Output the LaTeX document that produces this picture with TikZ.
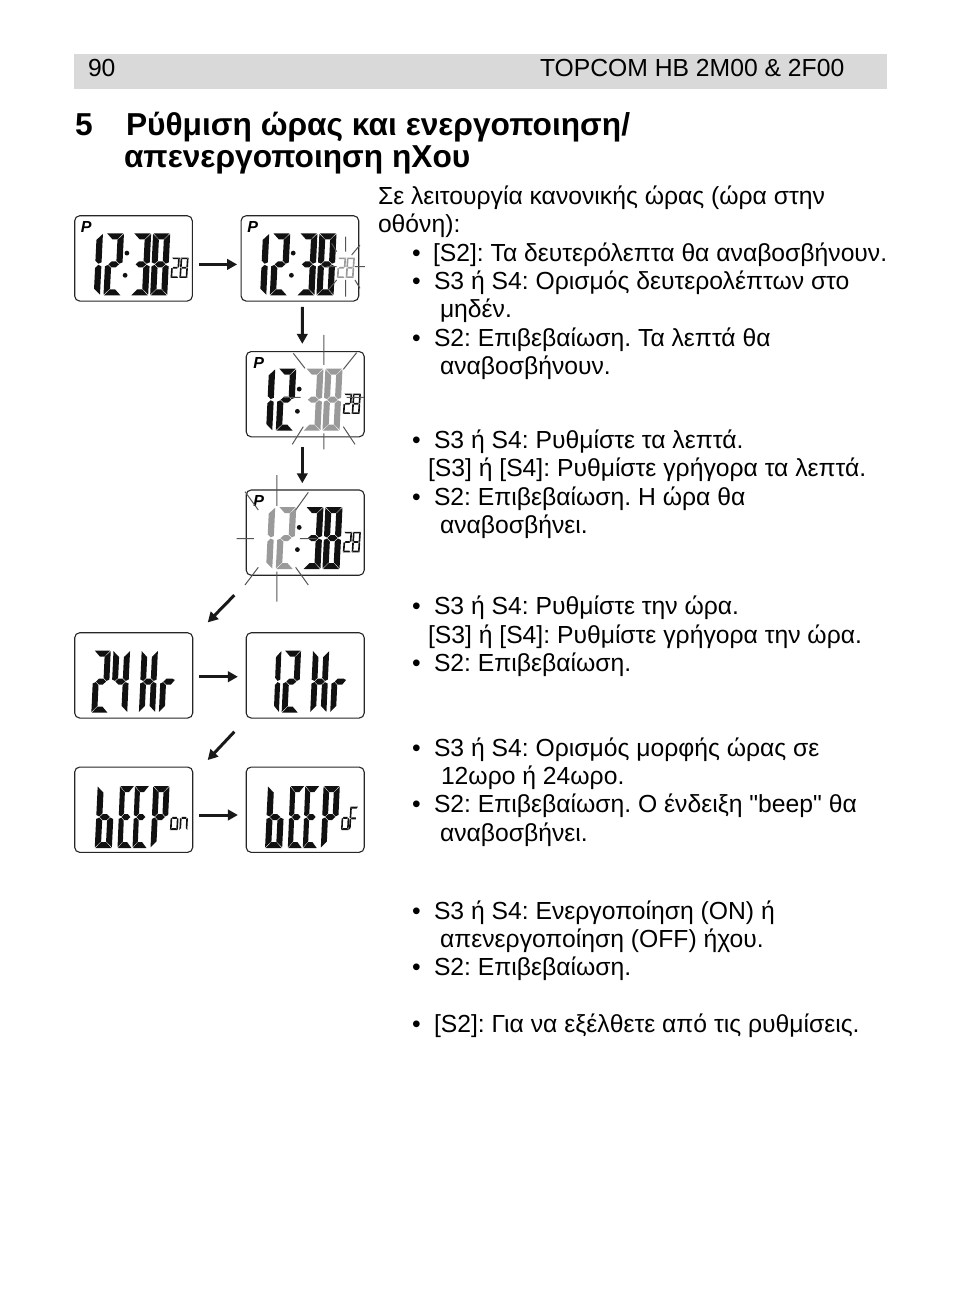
\documentclass[tikz,border=0pt]{standalone}
\usepackage{fontspec}
\setmainfont{Liberation Sans}[Ligatures=TeXOff]
\usetikzlibrary{arrows.meta}
\definecolor{hdr}{HTML}{D9D9D9}
\definecolor{segk}{HTML}{111111}
\definecolor{segg}{HTML}{9A9A9A}
\definecolor{rayc}{HTML}{555555}
\tikzset{
  panel/.style={draw=black!85,line width=1.1pt,rounded corners=5pt,fill=white,minimum width=118pt,minimum height=85.3pt,inner sep=0pt,outer sep=0pt},
  arr/.style={line width=3pt,-{Triangle[length=10pt,width=10.5pt]},black!90},
  ray/.style={rayc,line width=1pt},
  txt/.style={anchor=base west,inner sep=0pt,outer sep=0pt,font=\fontsize{24.7}{28}\selectfont\frenchspacing},
  hd/.style={anchor=base west,inner sep=0pt,outer sep=0pt,font=\fontsize{31.7}{33}\selectfont\bfseries\frenchspacing},
  pmark/.style={anchor=center,inner sep=0pt,font=\fontsize{16}{16}\selectfont\bfseries\itshape}
}
\def\T{6.4}\def\HH{6}
\newcommand\sega{\fill (0.6,0)--(17.4,0)--({18-\T},\HH)--(\T,\HH)--cycle;}
\newcommand\segf{\fill (0,0.6)--(\T,{\HH+0.6})--(\T,{30.4-\HH/2})--({\T/2},30.4)--(0,29)--cycle;}
\newcommand\segb{\fill (18,0.6)--({18-\T},{\HH+0.6})--({18-\T},{30.4-\HH/2})--({18-\T/2},30.4)--(18,29)--cycle;}
\newcommand\segg{\fill (3.5,31)--({\T+0.5},{31-\HH/2})--({17.5-\T},{31-\HH/2})--(14.5,31)--({17.5-\T},{31+\HH/2})--({\T+0.5},{31+\HH/2})--cycle;}
\newcommand\sege{\fill (0,33)--({\T/2},31.6)--(\T,{31.6+\HH/2})--(\T,{61.4-\HH})--(0,61.4)--cycle;}
\newcommand\segc{\fill (18,33)--({18-\T/2},31.6)--({18-\T},{31.6+\HH/2})--({18-\T},{61.4-\HH})--(18,61.4)--cycle;}
\newcommand\segd{\fill (0.6,62)--(17.4,62)--({18-\T},{62-\HH})--(\T,{62-\HH})--cycle;}
\newcommand\lcd[6]{\begin{scope}[shift={(#1,#2)},xscale=#3,yscale=#4,xslant=0.05,fill=#5]\foreach \s in {#6}{\csname seg\s\endcsname}\end{scope}}
\newcommand\slcd[6]{{\def\T{3.7}\def\HH{5}\lcd{#1}{#2}{#3}{#4}{#5}{#6}}}
\newcommand\clockface[7]{\begin{scope}[shift={(#1,#2)}]
  \node[pmark] (#7) at (11.6,10.8) {P};
  \lcd{10.8}{#6}{0.97}{1}{#3}{b,c}
  \lcd{31.8}{#6}{0.97}{1}{#3}{a,b,g,e,d}
  \lcd{59}{#6}{0.97}{1}{#4}{a,b,g,c,d}
  \lcd{78.4}{#6}{0.95}{1}{#4}{a,b,c,d,e,f,g}
  \fill[segk] (52.2,37.4) circle (2.4);
  \fill[segk] (50.4,59.6) circle (2.4);
  \slcd{97.2}{41.8}{0.44}{0.33}{#5}{a,b,g,e,d}
  \slcd{106}{41.8}{0.44}{0.33}{#5}{a,b,c,d,e,f,g}
\end{scope}}
\newcommand\hrword{%
  \lcd{67}{17.8}{0.9}{1}{segk}{b,c,e,f,g}
  \lcd{87}{17.8}{0.9}{1}{segk}{e}
  \begin{scope}[shift={(87,17.8)},xscale=0.9,xslant=0.05,fill=segk]
    \fill (3.5,31)--(6.9,28)--(13,28)--(16,29.5)--(12,34)--(6.9,34)--cycle;
  \end{scope}}
\newcommand\beepword{%
  \lcd{23}{19}{0.95}{1}{segk}{c,d,e,f,g}
  \lcd{45.3}{19}{0.8}{1}{segk}{a,d,e,f,g}
  \lcd{60.3}{19}{0.8}{1}{segk}{a,d,e,f,g}
  \lcd{78.6}{19}{0.9}{1}{segk}{a,b,e,f,g}}
\begin{document}
\begin{tikzpicture}[x=1pt,y=-1pt]
\useasboundingbox (0,0) rectangle (954,1306);
\fill[white] (0,0) rectangle (954,1306);
\fill[hdr] (74,54) rectangle (887,89);
\node[txt] (pg) at (88,77) {90};
\node[txt] (ttl) at (540,77) {TOPCOM HB 2M00 \& 2F00};
\node[hd] (h0) at (75,135) {5};
\node[hd] (h1) at (126,135) {Ρύθμιση ώρας και ενεργοποιηση/};
\node[hd] (h2) at (124,167) {απενεργοποιηση ηΧου};
% body text
\node[txt] (l1) at (378,204) {Σε λειτουργία κανονικής ώρας (ώρα στην};
\node[txt] (l2) at (378,232) {οθόνη):};
\node[txt] (b3) at (412,261) {•};\node[txt] (l3) at (433,261) {[S2]: Τα δευτερόλεπτα θα αναβοσβήνουν.};
\node[txt] (b4) at (412,289) {•};\node[txt] (l4) at (434,289) {S3 ή S4: Ορισμός δευτερολέπτων στο};
\node[txt] (l5) at (440,317) {μηδέν.};
\node[txt] (b6) at (412,346) {•};\node[txt] (l6) at (434,346) {S2: Επιβεβαίωση. Τα λεπτά θα};
\node[txt] (l7) at (440,374) {αναβοσβήνουν.};
\node[txt] (b8) at (412,448) {•};\node[txt] (l8) at (434,448) {S3 ή S4: Ρυθμίστε τα λεπτά.};
\node[txt] (l9) at (428,476) {[S3] ή [S4]: Ρυθμίστε γρήγορα τα λεπτά.};
\node[txt] (b10) at (412,505) {•};\node[txt] (l10) at (434,505) {S2: Επιβεβαίωση. Η ώρα θα};
\node[txt] (l11) at (440,533) {αναβοσβήνει.};
\node[txt] (b12) at (412,614) {•};\node[txt] (l12) at (434,614) {S3 ή S4: Ρυθμίστε την ώρα.};
\node[txt] (l13) at (428,643) {[S3] ή [S4]: Ρυθμίστε γρήγορα την ώρα.};
\node[txt] (b14) at (412,671) {•};\node[txt] (l14) at (434,671) {S2: Επιβεβαίωση.};
\node[txt] (b15) at (412,756) {•};\node[txt] (l15) at (434,756) {S3 ή S4: Ορισμός μορφής ώρας σε};
\node[txt] (l16) at (441,784) {12ωρο ή 24ωρο.};
\node[txt] (b17) at (412,812) {•};\node[txt] (l17) at (434,812) {S2: Επιβεβαίωση. Ο ένδειξη "beep" θα};
\node[txt] (l18) at (440,841) {αναβοσβήνει.};
\node[txt] (b19) at (412,919) {•};\node[txt] (l19) at (434,919) {S3 ή S4: Ενεργοποίηση (ON) ή};
\node[txt] (l20) at (440,947) {απενεργοποίηση (OFF) ήχου.};
\node[txt] (b21) at (412,975) {•};\node[txt] (l21) at (434,975) {S2: Επιβεβαίωση.};
\node[txt] (b22) at (412,1032) {•};\node[txt] (l22) at (434,1032) {[S2]: Για να εξέλθετε από τις ρυθμίσεις.};
% panels
\node[panel,minimum width=117.6pt] (p1) at (133.5,258.4) {};
\node[panel,minimum width=117.6pt] (p2) at (299.9,258.4) {};
\node[panel] (p3) at (305.2,394.2) {};
\node[panel] (p4) at (305.2,532.6) {};
\node[panel] (p5) at (133.7,675.4) {};
\node[panel] (p6) at (305.2,675.4) {};
\node[panel] (p7) at (133.7,809.7) {};
\node[panel] (p8) at (305.2,809.7) {};
% LCD contents
\clockface{74.7}{215.7}{segk}{segk}{segk}{17.6}{m1}
\clockface{241}{215.7}{segk}{segk}{segg}{17.6}{m2}
\clockface{247}{351.7}{segk}{segg}{segk}{17}{m3}
\clockface{247}{490}{segg}{segk}{segk}{17}{m4}
\begin{scope}[shift={(74.7,632.7)}]
  \lcd{19.5}{17.8}{0.92}{1}{segk}{a,b,g,e,d}
  \lcd{38.8}{17.8}{0.92}{1}{segk}{f,g,b,c}
  \hrword
\end{scope}
\begin{scope}[shift={(246,632.7)}]
  \lcd{21}{17.8}{0.8}{1}{segk}{b,c}
  \lcd{38.5}{17.8}{0.92}{1}{segk}{a,b,g,e,d}
  \hrword
\end{scope}
\begin{scope}[shift={(74.7,767)}]
  \beepword
  \slcd{96.6}{38.4}{0.44}{0.4}{segk}{c,d,e,g}
  \slcd{106}{38.4}{0.44}{0.4}{segk}{c,e,g}
\end{scope}
\begin{scope}[shift={(246,767)}]
  \begin{scope}[xshift=-1pt]\beepword\end{scope}
  \slcd{96.3}{38.4}{0.42}{0.4}{segk}{c,d,e,g}
  \slcd{104.3}{39.7}{0.44}{0.376}{segk}{a,e,f,g}
\end{scope}
% rays
\begin{scope}[shift={(60,200)},x=0.3333pt,y=-0.3333pt]
  \draw[ray] (857,110)--(857,155) (857,240)--(857,290) (900,135)--(875,165) (885,200)--(915,200) (800,200)--(830,200) (815,130)--(830,155) (900,265)--(885,240) (805,270)--(830,240);
  \draw[ray] (792,405)--(792,495) (792,700)--(792,748) (700,460)--(735,505) (890,458)--(850,508) (670,592)--(722,592) (860,592)--(912,592) (730,680)--(697,733) (850,680)--(885,733);
\end{scope}
\begin{scope}[shift={(60,450)},x=0.3333pt,y=-0.3333pt]
  \draw[ray] (651,75)--(651,168) (651,365)--(651,455) (530,266)--(582,266) (720,266)--(770,266) (555,125)--(595,180) (745,127)--(707,180) (595,352)--(555,405) (707,352)--(745,405);
\end{scope}
% connectors
\draw[arr,shorten <=6.7pt,shorten >=4pt] ([yshift=-6pt]p1.east) -- ([yshift=-6pt]p2.west);
\draw[arr,shorten <=5.7pt,shorten >=7.7pt] ([xshift=2.4pt]p2.south) -- ([xshift=-2.9pt]p3.north);
\draw[arr,shorten <=10pt,shorten >=6.7pt] ([xshift=-2.9pt]p3.south) -- ([xshift=-2.9pt]p4.north);
\draw[arr,shorten <=27.9pt,shorten >=14.5pt] ([xshift=7.6pt]p4.south west) -- ([xshift=4.9pt]p5.north east);
\draw[arr,shorten <=6.6pt,shorten >=8.3pt] ([yshift=-1.3pt]p5.east) -- ([yshift=-1.3pt]p6.west);
\draw[arr,shorten <=18.8pt,shorten >=9.6pt] ([xshift=1pt]p6.south west) -- ([xshift=8.4pt]p7.north east);
\draw[arr,shorten <=6.6pt,shorten >=8.3pt] ([yshift=-5.3pt]p7.east) -- ([yshift=-5.3pt]p8.west);
\end{tikzpicture}
\end{document}
